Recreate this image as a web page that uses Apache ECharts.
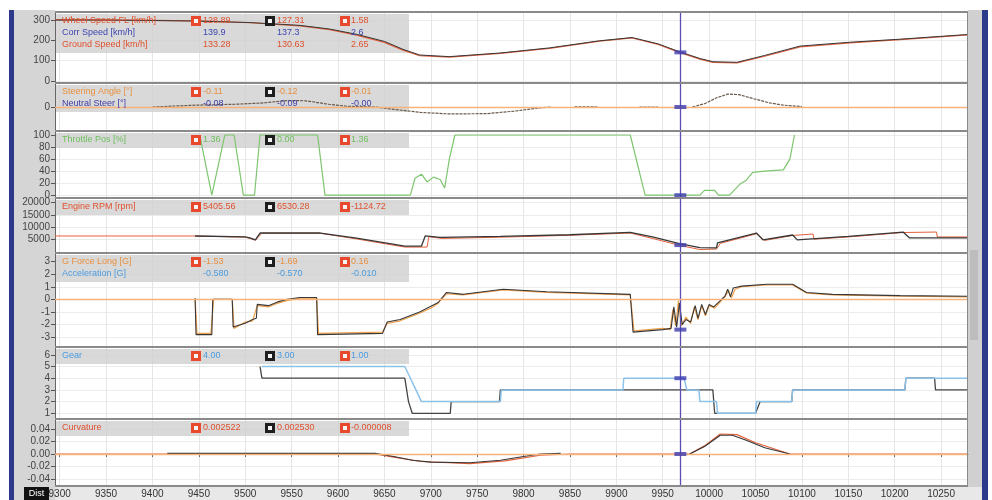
<!DOCTYPE html>
<html>
<head>
<meta charset="utf-8">
<script src="https://cdn.jsdelivr.net/npm/echarts@6/dist/echarts.min.js"></script>
<style>
html, body { margin: 0; padding: 0; background: #fff; }
#chart { width: 992px; height: 500px; }
</style>
</head>
<body>
<div id="chart"></div>
<script>
// distance axis
const distTicks = [9300, 9350, 9400, 9450, 9500, 9550, 9600, 9650, 9700, 9750, 9800, 9850, 9900, 9950, 10000, 10050, 10100, 10150, 10200, 10250];
const cursorDist = 9969;

// panel 1 - speed
const speedTicks = [0, 100, 200, 300];
const speedRef = [[9295,302],[9350,301],[9400,299],[9450,296],[9505,287],[9559,272],[9591,253],[9620,226],[9650,190],[9670,152],[9688,125],[9720,118],[9775,136],[9828,161],[9882,196],[9917,212],[9945,180],[9968,141],[9990,108],[10004,92],[10030,89],[10060,122],[10098,168],[10152,188],[10206,204],[10279,227]];
const speedCmp = [[9295,300],[9350,300],[9400,298],[9450,295],[9505,288],[9559,274],[9591,256],[9620,230],[9650,195],[9670,156],[9688,128],[9720,120],[9775,138],[9828,163],[9882,198],[9917,214],[9945,183],[9968,144],[9990,111],[10004,95],[10030,92],[10060,126],[10098,172],[10152,191],[10206,206],[10279,229]];

// panel 2 - steering
const steerTicks = [0];
const steerCmp = [[9400,0],[9446,8],[9490,12],[9520,18],[9545,28],[9565,27],[9590,12],[9610,3],[9640,0],[9660,-10],[9690,-24],[9720,-30],[9760,-29],[9790,-18],[9815,-5],[9830,0],[9831,null],[9855,1],[9880,0],[9881,null],[9925,0],[9945,0],[9946,null],[9982,0],[9995,14],[10008,40],[10020,56],[10032,54],[10048,36],[10065,18],[10080,8],[10100,2]];

// panel 3 - throttle
const throttleTicks = [0, 20, 40, 60, 80, 100];
const throttle = [[9451,100],[9464,0],[9478,100],[9488,100],[9498,0],[9510,0],[9516,100],[9578,100],[9586,0],[9678,0],[9683,28],[9690,35],[9696,22],[9703,30],[9710,26],[9715,12],[9720,60],[9726,100],[9915,100],[9931,0],[9990,0],[9995,8],[10006,8],[10010,0],[10022,0],[10033,18],[10040,25],[10047,38],[10060,40],[10080,42],[10087,60],[10092,100]];

// panel 4 - engine rpm
const rpmTicks = [5000, 10000, 15000, 20000];
const rpmRef = [[9295,6500],[9446,6500],[9500,6000],[9505,5500],[9511,4800],[9518,7600],[9581,7600],[9620,5300],[9672,2000],[9696,2000],[9698,6200],[9712,5500],[9775,6000],[9850,6800],[9915,7700],[9940,5400],[9968,2700],[9990,1000],[10008,1200],[10012,3500],[10051,7400],[10060,4700],[10090,6700],[10112,7300],[10113,5200],[10150,6100],[10209,7900],[10245,8100],[10246,6100],[10279,6100]];
const rpmCmp = [[9446,6500],[9500,6100],[9505,5700],[9511,4900],[9516,7700],[9581,7700],[9620,5600],[9672,2400],[9690,2400],[9694,6500],[9710,5900],[9775,6300],[9850,7000],[9915,8000],[9940,6000],[9968,3400],[9990,1800],[10008,1700],[10009,3700],[10051,7700],[10058,4900],[10090,6900],[10095,4900],[10150,6300],[10209,8100],[10216,5700],[10279,5700]];

// panel 5 - g force long
const gTicks = [-3, -2, -1, 0, 1, 2, 3];
const gRef = [[9446,0],[9448,-2.7],[9463,-2.7],[9466,0],[9486,0],[9488,-2.3],[9500,-1.8],[9508,-1.7],[9513,-0.5],[9525,-0.6],[9535,-0.3],[9545,-0.1],[9559,0.1],[9577,0.1],[9579,-2.7],[9648,-2.6],[9653,-1.9],[9667,-1.7],[9688,-1.1],[9700,-0.7],[9708,-0.3],[9717,0.45],[9735,0.35],[9778,0.75],[9825,0.55],[9915,0.35],[9919,-2.5],[9950,-2.3],[9958,-2.4],[9961,-0.8],[9964,-2.1],[9967,-0.1],[9970,-2.1],[9975,-1.4],[9980,-1.9],[9984,-0.6],[9988,-1.6],[9992,-0.5],[9996,-1.3],[10000,-0.5],[10006,-0.7],[10012,-0.2],[10017,0.2],[10021,0.7],[10024,0.1],[10028,0.8],[10035,1.0],[10062,1.15],[10090,1.15],[10105,0.5],[10133,0.35],[10206,0.25],[10279,0.2]];
const gCmp = [[9446,0.1],[9447,-2.8],[9464,-2.8],[9465,0],[9486,0],[9487,-2.2],[9500,-1.9],[9508,-1.6],[9512,-1.5],[9513,-0.4],[9525,-0.5],[9535,-0.2],[9545,0],[9559,0.15],[9577,0.15],[9578,-2.8],[9648,-2.7],[9653,-1.8],[9667,-1.6],[9688,-1.0],[9708,-0.25],[9717,0.55],[9735,0.4],[9778,0.8],[9825,0.6],[9915,0.4],[9918,-2.6],[9950,-2.4],[9959,-2.3],[9962,-0.6],[9965,-2.2],[9968,-0.3],[9971,-2.0],[9975,-1.6],[9980,-1.8],[9985,-0.5],[9988,-1.5],[9992,-0.4],[9996,-1.2],[10000,-0.4],[10005,-0.6],[10012,-0.1],[10017,0.25],[10020,0.8],[10023,0.2],[10026,0.9],[10035,1.05],[10062,1.2],[10090,1.2],[10105,0.55],[10133,0.4],[10206,0.3],[10279,0.25]];

// panel 6 - gear
const gearTicks = [1, 2, 3, 4, 5, 6];
const gearRef = [[9518,5],[9672,5],[9678,4],[9684,3],[9690,2],[9775,2],[9776,3],[9907,3],[9908,4],[9973,4],[9976,3],[9989,3],[9990,2],[10008,2],[10009,1],[10050,1],[10051,2],[10089,2],[10090,3],[10211,3],[10212,4],[10279,4]];
const gearCmp = [[9516,5],[9518,4],[9672,4],[9676,2],[9680,1],[9721,1],[9722,2],[9774,2],[9775,3],[10004,3],[10006,1],[10050,1],[10055,2],[10089,2],[10090,3],[10211,3],[10212,4],[10243,4],[10244,3],[10279,3]];

// panel 7 - curvature
const curvTicks = [-0.04, -0.02, 0, 0.02, 0.04];
const curvRef = [[9295,0],[9416,0],[9640,0],[9660,-0.005],[9690,-0.012],[9742,-0.0155],[9780,-0.011],[9818,-0.002],[9850,0],[9979,0],[9995,0.013],[10012,0.032],[10030,0.031],[10050,0.018],[10087,0],[10279,0]];
const curvCmp = [[9416,0.001],[9640,0.001],[9660,-0.004],[9680,-0.010],[9700,-0.013],[9742,-0.014],[9775,-0.010],[9800,-0.004],[9818,0],[9840,0.001],[9841,null],[9979,0],[9995,0.012],[10012,0.03],[10025,0.03],[10040,0.022],[10060,0.01],[10087,0]];

// cursor readings per panel
const cursorVals = [141, 0, 0, 2800, -2.4, 4, 0];

// channel headers
const headerNames = [
  ['Wheel Speed FL [km/h]', 'Corr Speed [km/h]', 'Ground Speed [km/h]'],
  ['Steering Angle [°]', 'Neutral Steer [°]'],
  ['Throttle Pos [%]'],
  ['Engine RPM [rpm]'],
  ['G Force Long [G]', 'Acceleration [G]'],
  ['Gear'],
  ['Curvature']
];
const headerValues = [
  [['128.89', '127.31', '1.58'], ['139.9', '137.3', '2.6'], ['133.28', '130.63', '2.65']],
  [['-0.11', '-0.12', '-0.01'], ['-0.08', '-0.09', '-0.00']],
  [['1.36', '0.00', '1.36']],
  [['5405.56', '6530.28', '-1124.72']],
  [['-1.53', '-1.69', '0.16'], ['-0.580', '-0.570', '-0.010']],
  [['4.00', '3.00', '1.00']],
  [['0.002522', '0.002530', '-0.000008']]
];

// layout
const plotLeft = 55, plotRight = 968;
const gridTops = [13, 84, 132, 199, 254, 348, 420];
const gridHeights = [69, 46, 65, 53, 92, 70, 65];
const yRanges = [[-5, 335], [-100, 100], [-3, 105], [0, 21500], [-3.7, 3.6], [0.6, 6.58], [-0.0496, 0.0544]];
const yTickSets = [speedTicks, steerTicks, throttleTicks, rpmTicks, gTicks, gearTicks, curvTicks];

const RED = '#e4613c', DARK = '#383838', ORANGE = '#f0a04a', GREEN = '#7dc56e', LBLUE = '#8cc2ea';
const headerColors = [
  ['#e0502d', '#3d46b0', '#e0502d'],
  ['#e8903e', '#3d3da8'],
  ['#6cbf5a'],
  ['#e0502d'],
  ['#e8903e', '#4a9be0'],
  ['#4a9be0'],
  ['#e0502d']
];
const FONT = 'Liberation Sans';

const chart = echarts.init(document.getElementById('chart'));

const grids = gridTops.map((t, i) => ({
  left: plotLeft, width: plotRight - plotLeft, top: t, height: gridHeights[i], containLabel: false
}));

const xAxes = gridTops.map((t, i) => ({
  type: 'value', gridIndex: i, min: 9295, max: 10279,
  axisLine: { show: i === 6, lineStyle: { color: '#666' } },
  axisTick: { show: i === 6, customValues: distTicks, length: 3, lineStyle: { color: '#666' } },
  axisLabel: {
    show: i === 6, customValues: distTicks, fontSize: 10, color: '#333', fontFamily: FONT, margin: 4,
    formatter: v => String(v)
  },
  splitLine: { show: true, lineStyle: { color: '#e6e6e6' } }
}));

const yAxes = gridTops.map((t, i) => ({
  type: 'value', gridIndex: i, min: yRanges[i][0], max: yRanges[i][1],
  axisLine: { show: true, lineStyle: { color: '#666' } },
  axisTick: { show: true, customValues: yTickSets[i], length: 4, lineStyle: { color: '#555' } },
  axisLabel: {
    customValues: yTickSets[i], fontSize: 10, color: '#444', fontFamily: FONT, margin: 5,
    formatter: v => (i === 6 ? v.toFixed(2) : String(v))
  },
  splitLine: { show: true, lineStyle: { color: '#ececec' } }
}));

function line(i, data, color, width, extra) {
  return Object.assign({
    type: 'line', xAxisIndex: i, yAxisIndex: i, data: data,
    showSymbol: false, symbol: 'none', connectNulls: false, animation: false,
    lineStyle: { color: color, width: width }, z: 3
  }, extra || {});
}

function marks(withZero) {
  const d = [{ xAxis: cursorDist, lineStyle: { color: '#5b4fb5', width: 1.3, type: 'solid' } }];
  if (withZero) d.push({ yAxis: 0, lineStyle: { color: '#f6b47c', width: 1.3, type: 'solid' } });
  return { markLine: { silent: true, symbol: 'none', label: { show: false }, data: d, animation: false } };
}

const series = [
  line(0, speedRef, RED, 1.2, marks(false)),
  line(0, speedCmp, DARK, 1),
  line(1, steerCmp, '#6b5a4a', 1.2, Object.assign(marks(true), { lineStyle: { color: '#6b5a4a', width: 1.2, type: [3, 1] } })),
  line(2, throttle, GREEN, 1.2, marks(false)),
  line(3, rpmRef, RED, 1, marks(false)),
  line(3, rpmCmp, DARK, 1.3),
  line(4, gRef, ORANGE, 1.2, marks(true)),
  line(4, gCmp, DARK, 1.1),
  line(5, gearCmp, '#444', 1.3, marks(false)),
  line(5, gearRef, LBLUE, 1.5),
  line(6, curvRef, RED, 1.2, marks(true)),
  line(6, curvCmp, DARK, 1.2)
];

// cursor markers
cursorVals.forEach((v, i) => {
  series.push({
    type: 'scatter', xAxisIndex: i, yAxisIndex: i, data: [[cursorDist, v]],
    symbol: 'rect', symbolSize: [12, 4], itemStyle: { color: '#3d3db0' }, z: 6, animation: false, silent: true
  });
});

// frame, bands, headers
const graphics = [];
graphics.push({ type: 'rect', z: -10, shape: { x: 14, y: 10, width: 41, height: 490 }, style: { fill: '#d5d5d5' } });
graphics.push({ type: 'rect', z: -10, shape: { x: 9, y: 10, width: 5, height: 490 }, style: { fill: '#2d3a8c' } });
graphics.push({ type: 'rect', z: -10, shape: { x: 968, y: 10, width: 14, height: 478 }, style: { fill: '#d0d0d0' } });
graphics.push({ type: 'rect', z: -10, shape: { x: 970, y: 250, width: 8, height: 90 }, style: { fill: '#bdbdbd' } });
graphics.push({ type: 'rect', z: -10, shape: { x: 982, y: 10, width: 6, height: 490 }, style: { fill: '#2d3a8c' } });
graphics.push({ type: 'rect', z: -10, shape: { x: 55, y: 487, width: 927, height: 13 }, style: { fill: '#e8e8e8' } });
graphics.push({ type: 'rect', z: 8, shape: { x: 24, y: 487, width: 25, height: 13 }, style: { fill: '#111' } });
graphics.push({ type: 'text', z: 9, x: 36.5, y: 494, style: { text: 'Dist', fill: '#fff', fontSize: 9, fontFamily: FONT, align: 'center', verticalAlign: 'middle' } });

// separators
const sepYs = [11].concat(gridTops.slice(1).map(t => t - 2)).concat([485]);
sepYs.forEach(y => {
  graphics.push({ type: 'rect', z: 7, shape: { x: plotLeft, y: y, width: plotRight - plotLeft, height: 2 }, style: { fill: '#8a8a8a' } });
});
graphics.push({ type: 'rect', z: 7, shape: { x: plotRight - 1, y: 11, width: 1, height: 476 }, style: { fill: '#8a8a8a' } });

const boxX = [191, 265, 340], valX = [203, 277, 351], boxFill = ['#e8482c', '#1e1e1e', '#e8482c'];
gridTops.forEach((t, p) => {
  const rows = headerNames[p].length;
  graphics.push({ type: 'rect', z: 1, shape: { x: plotLeft + 1, y: t + 1, width: 353, height: rows * 12 + 3 }, style: { fill: 'rgba(208,208,208,0.8)' } });
  headerNames[p].forEach((name, r) => {
    const cy = t + 8 + r * 12;
    const col = headerColors[p][r];
    graphics.push({ type: 'text', z: 9, x: 62, y: cy, style: { text: name, fill: col, fontSize: 9, fontFamily: FONT, verticalAlign: 'middle' } });
    headerValues[p][r].forEach((v, k) => {
      if (r === 0) {
        graphics.push({ type: 'rect', z: 9, shape: { x: boxX[k], y: cy - 5, width: 10, height: 10 }, style: { fill: boxFill[k] } });
        graphics.push({ type: 'rect', z: 10, shape: { x: boxX[k] + 3, y: cy - 2, width: 4, height: 4 }, style: { fill: '#f4f4f4' } });
      }
      graphics.push({ type: 'text', z: 9, x: valX[k], y: cy, style: { text: v, fill: col, fontSize: 9, fontFamily: FONT, verticalAlign: 'middle' } });
    });
  });
});

chart.setOption({
  animation: false,
  backgroundColor: '#ffffff',
  grid: grids,
  xAxis: xAxes,
  yAxis: yAxes,
  series: series,
  graphic: graphics
});
</script>
</body>
</html>
